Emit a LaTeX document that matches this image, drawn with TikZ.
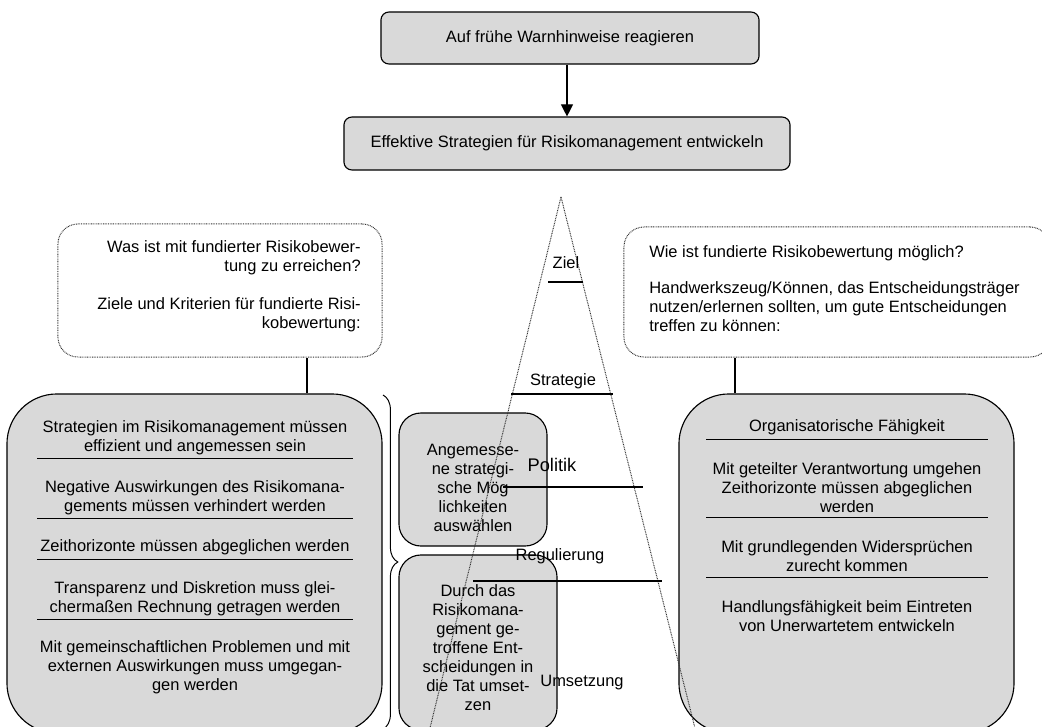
\documentclass[tikz,border=0pt]{standalone}
\usepackage{fontspec}
\setmainfont{Liberation Sans}
\usetikzlibrary{positioning, arrows.meta, decorations.pathreplacing}

\begin{document}
\begin{tikzpicture}[x=0.025cm, y=-0.025cm,
  font=\fontsize{11.7}{13.5}\selectfont,
  box/.style={draw, fill=black!15, line width=0.8pt},
  qbox/.style={draw=black!80, dash pattern=on 0.6pt off 0.6pt, line width=0.7pt, rounded corners=0.5cm},
  txt/.style={inner sep=0pt, align=center},
  dots/.style={draw=black!80, dash pattern=on 0.6pt off 0.6pt, line width=0.7pt},
  sep/.style={line width=0.6pt},
  bar/.style={line width=1.2pt},
  link/.style={line width=1.2pt}]

\clip (0,0) rectangle (1042,726);

% top
\node[box, rounded corners=0.2cm, minimum width=9.45cm, minimum height=1.3cm](warn) at (570,38) {Auf frühe Warnhinweise reagieren};
\node[box, rounded corners=0.2cm, minimum width=11.15cm, minimum height=1.325cm](strat) at (567,143.5) {Effektive Strategien für Risikomanagement entwickeln};
\draw[-{Triangle[length=0.3cm, width=0.3cm]}, line width=0.8pt] (strat.north |- warn.south) -- (strat.north);

% questions
\node[qbox, minimum width=8.1cm, minimum height=3.325cm](whatq) at (220,290.5) {};
\node[txt, align=right, anchor=east](whatt) at (361,286.5) {Was ist mit fundierter Risikobewer-\\tung zu erreichen?\\[13.5pt]Ziele und Kriterien für fundierte Risi-\\kobewertung:};
\node[qbox, minimum width=10.65cm, minimum height=3.25cm](howq) at (837,292) {};
\node[txt, align=left, anchor=west](howt) at (649,289) {Wie ist fundierte Risikobewertung möglich?\\[12pt]Handwerkszeug/Können, das Entscheidungsträger\\nutzen/erlernen sollten, um gute Entscheidungen\\treffen zu können:};

% boxes
\node[box, rounded corners=1.25cm, minimum width=9.375cm, minimum height=8.475cm](goals) at (194.5,563.5) {};
\node[box, rounded corners=1.25cm, minimum width=8.375cm, minimum height=8.475cm](skills) at (846.5,563.5) {};
\node[box, rounded corners=0.55cm, minimum width=3.7cm, minimum height=3.325cm](choose) at (473,479.5) {};
\node[box, rounded corners=0.55cm, minimum width=3.95cm, minimum height=4.375cm](apply) at (478,642.5) {};

\coordinate (gl) at (307,0);
\draw[link] (gl |- whatq.south) -- (gl |- goals.north);
\coordinate (sl) at (735,0);
\draw[link] (sl |- howq.south) -- (sl |- skills.north);

% goals
\node[txt](g1) at (195,437.5) {Strategien im Risikomanagement müssen\\effizient und angemessen sein};
\node[txt](g2) at (195,497.5) {Negative Auswirkungen des Risikomana-\\gements müssen verhindert werden};
\node[txt](g3) at (195,547) {Zeithorizonte müssen abgeglichen werden};
\node[txt](g4) at (195,598.5) {Transparenz und Diskretion muss glei-\\chermaßen Rechnung getragen werden};
\node[txt](g5) at (195,667) {Mit gemeinschaftlichen Problemen und mit\\externen Auswirkungen muss umgegan-\\gen werden};
\draw[sep] (37,458) -- (353,458);
\draw[sep] (37,518) -- (353,518);
\draw[sep] (37,559) -- (353,559);
\draw[sep] (37,619) -- (353,619);

% skills
\node[txt](s1) at (847,427) {Organisatorische Fähigkeit};
\node[txt](s2) at (847,487.5) {Mit geteilter Verantwortung umgehen\\Zeithorizonte müssen abgeglichen\\werden};
\node[txt](s3) at (847,556.5) {Mit grundlegenden Widersprüchen\\zurecht kommen};
\node[txt](s4) at (847,616.5) {Handlungsfähigkeit beim Eintreten\\von Unerwartetem entwickeln};
\draw[sep] (706,439) -- (988,439);
\draw[sep] (706,517) -- (988,517);
\draw[sep] (706,577) -- (988,577);

% middle
\node[txt](c1) at (473,487.5) {Angemesse-\\ne strategi-\\sche Mög\\lichkeiten\\auswählen};
\node[txt](a1) at (478,648) {Durch das\\Risikomana-\\gement ge-\\troffene Ent-\\scheidungen in\\die Tat umset-\\zen};

\draw[decorate, decoration={brace, amplitude=0.37cm}, line width=0.7pt] (383,395) -- (383,729);

% pyramid
\coordinate (apex) at (561,197);
\draw[dots] (apex) -- (427,740);
\draw[dots] (apex) -- (698,740);

\node(ziel) at (566,263) {Ziel};
\draw[bar] (548,282) -- (583,282);
\node(strg) at (563,381) {Strategie};
\draw[bar] (511,394) -- (613,394);
\node[font=\fontsize{13}{15}\selectfont](pol) at (552,465) {Politik};
\draw[bar] (503,487) -- (643,487);
\node(reg) at (560,556) {Regulierung};
\draw[bar] (473,581) -- (662,581);
\node(ums) at (582,683) {Umsetzung};
\end{tikzpicture}
\end{document}
